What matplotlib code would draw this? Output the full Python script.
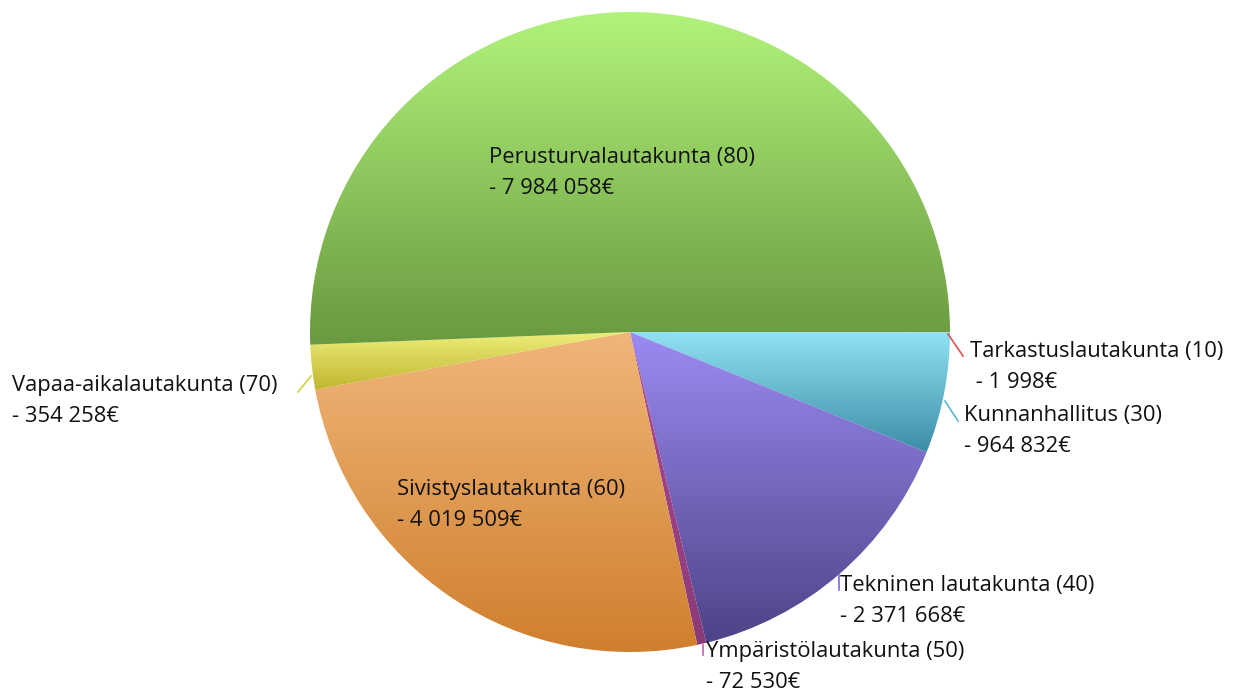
import matplotlib.pyplot as plt
import numpy as np
from matplotlib.colors import to_rgb
from matplotlib.patches import Wedge

# data (clockwise from 3 o'clock)
names = [
    "Tarkastuslautakunta (10)",
    "Kunnanhallitus (30)",
    "Tekninen lautakunta (40)",
    "Ympäristölautakunta (50)",
    "Sivistyslautakunta (60)",
    "Vapaa-aikalautakunta (70)",
    "Perusturvalautakunta (80)",
]
values = [1998, 964832, 2371668, 72530, 4019509, 354258, 7984058]
top_colors = ["#e36a6a", "#92e3f5", "#9b8bf2", "#b04c92", "#f1b67a", "#eeee7a", "#b1f37b"]
bottom_colors = ["#d04848", "#3a8da5", "#4d4387", "#8a3a78", "#cf7f2d", "#bfb52e", "#69993f"]
line_colors = ["#e05050", "#5ab8d0", "#7a66d8", "#c060a8", None, "#d0d040", None]

# layout (pixels)
cx, cy, r = 630, 332, 320
label_pos = [(970, 351), (964, 415), (840, 586), (706, 651), (397, 490), (12, 386), (489, 158)]
leaders = [
    [(948, 334), (963, 356)],
    [(945, 401), (958, 421)],
    [(839, 575), (839, 590)],
    [(703, 645), (703, 655)],
    None,
    [(311, 376), (298, 392)],
    None,
]

plt.rcParams["font.family"] = ["Open Sans", "DejaVu Sans"]

fig = plt.figure(figsize=(12.35, 6.93), dpi=100)
ax = fig.add_axes([0, 0, 1, 1])
ax.set_xlim(0, 1235)
ax.set_ylim(693, 0)
ax.axis("off")

total = float(sum(values))
start = 0.0
for i, v in enumerate(values):
    sweep = 360.0 * v / total
    w = Wedge((cx, cy), r, start, start + sweep, facecolor="none", edgecolor="none")
    ax.add_patch(w)
    ext = w.get_path().get_extents()
    y0, y1 = ext.y0, ext.y1
    n = 256
    t = np.linspace(0, 1, n)[:, None]
    c0 = np.array(to_rgb(top_colors[i]))
    c1 = np.array(to_rgb(bottom_colors[i]))
    img = (c0 * (1 - t) + c1 * t)[:, None, :]
    im = ax.imshow(img, extent=[ext.x0 - 1, ext.x1 + 1, y1 + 1, y0 - 1],
                   origin="upper", aspect="auto", interpolation="bilinear")
    im.set_clip_path(w)
    start += sweep

ax.set_xlim(0, 1235)
ax.set_ylim(693, 0)

for i, name in enumerate(names):
    x, y = label_pos[i]
    val = f"{values[i]:,}".replace(",", " ")
    second = f"- {val}€"
    if i == 0:
        second = " " + second
    ax.text(x, y, name, fontsize=15.8, va="center", ha="left", color="#111111")
    ax.text(x, y + 31, second, fontsize=15.8, va="center", ha="left", color="#111111")
    if leaders[i] is not None:
        (xa, ya), (xb, yb) = leaders[i]
        ax.plot([xa, xb], [ya, yb], color=line_colors[i], lw=1.2)

fig.savefig("out.png", dpi=100)
